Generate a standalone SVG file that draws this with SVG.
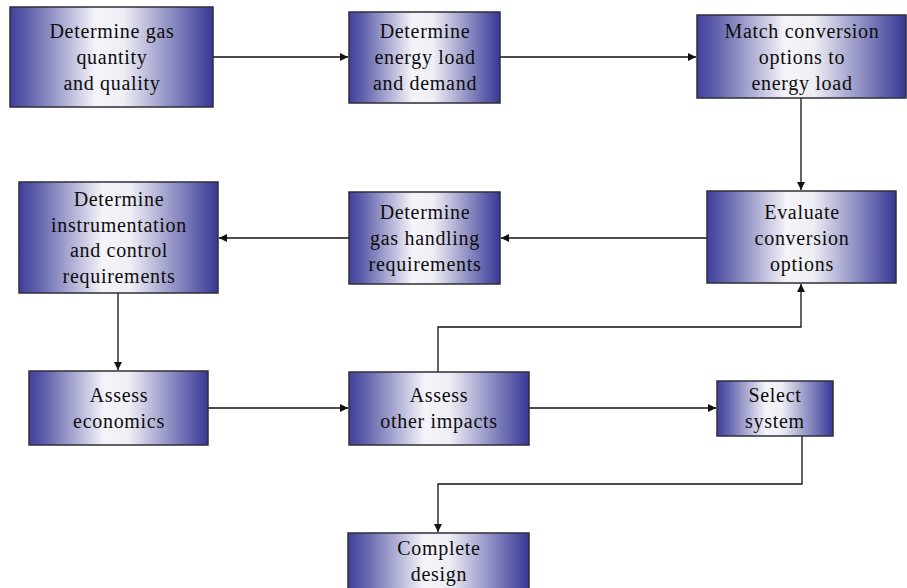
<svg xmlns="http://www.w3.org/2000/svg" width="907" height="588" viewBox="0 0 907 588">
<style>
.box{fill:url(#g);stroke:#2e2e3a;stroke-width:1.5}
.t{font-size:20px;letter-spacing:0.7px;fill:#0d0d0d;text-anchor:middle}
.c{fill:none;stroke:#111;stroke-width:1.3}
</style>
<defs>
<linearGradient id="g" x1="0" y1="0" x2="1" y2="0">
<stop offset="0" stop-color="#40409c"/>
<stop offset="0.1" stop-color="#6464ae"/>
<stop offset="0.42" stop-color="#f4f4f9"/>
<stop offset="0.56" stop-color="#eeeef5"/>
<stop offset="0.9" stop-color="#6060ac"/>
<stop offset="1" stop-color="#383894"/>
</linearGradient>
<marker id="a" viewBox="0 0 10 10" refX="10" refY="5" markerWidth="8" markerHeight="8" markerUnits="userSpaceOnUse" orient="auto">
<path d="M0,0 L10,5 L0,10 z" fill="#111"/>
</marker>
</defs>
<rect width="907" height="588" fill="#fff"/>
<g id="connectors">
<path class="c" d="M213,57 H348" marker-end="url(#a)"/>
<path class="c" d="M500,57 H696" marker-end="url(#a)"/>
<path class="c" d="M801,98 V190" marker-end="url(#a)"/>
<path class="c" d="M707,238 H501" marker-end="url(#a)"/>
<path class="c" d="M349,238 H219" marker-end="url(#a)"/>
<path class="c" d="M118,293 V370" marker-end="url(#a)"/>
<path class="c" d="M208,408 H348" marker-end="url(#a)"/>
<path class="c" d="M438,372 V327 H801 V284" marker-end="url(#a)"/>
<path class="c" d="M529,408 H716" marker-end="url(#a)"/>
<path class="c" d="M802,436 V484 H438 V532" marker-end="url(#a)"/>
</g>
<g font-family="Liberation Serif, Times New Roman, serif">
<g id="n1"><rect class="box" x="10" y="7" width="203" height="100"/>
<text class="t" x="112" y="38">Determine gas</text><text class="t" x="112" y="64">quantity</text><text class="t" x="112" y="90">and quality</text></g>
<g id="n2"><rect class="box" x="349" y="12" width="151" height="91"/>
<text class="t" x="425" y="38">Determine</text><text class="t" x="425" y="64">energy load</text><text class="t" x="425" y="90">and demand</text></g>
<g id="n3"><rect class="box" x="697" y="15" width="209" height="83"/>
<text class="t" x="802" y="38">Match conversion</text><text class="t" x="802" y="64">options to</text><text class="t" x="802" y="90">energy load</text></g>
<g id="n4"><rect class="box" x="707" y="191" width="189" height="92"/>
<text class="t" x="802" y="219">Evaluate</text><text class="t" x="802" y="245">conversion</text><text class="t" x="802" y="271">options</text></g>
<g id="n5"><rect class="box" x="349" y="192" width="151" height="92"/>
<text class="t" x="425" y="219">Determine</text><text class="t" x="425" y="245">gas handling</text><text class="t" x="425" y="271">requirements</text></g>
<g id="n6"><rect class="box" x="19" y="182" width="199" height="111"/>
<text class="t" x="119" y="206">Determine</text><text class="t" x="119" y="232">instrumentation</text><text class="t" x="119" y="257">and control</text><text class="t" x="119" y="283">requirements</text></g>
<g id="n7"><rect class="box" x="29" y="371" width="179" height="74"/>
<text class="t" x="119" y="402">Assess</text><text class="t" x="119" y="428">economics</text></g>
<g id="n8"><rect class="box" x="349" y="372" width="180" height="73"/>
<text class="t" x="439" y="402">Assess</text><text class="t" x="439" y="428">other impacts</text></g>
<g id="n9"><rect class="box" x="717" y="381" width="116" height="55"/>
<text class="t" x="775" y="402">Select</text><text class="t" x="775" y="428">system</text></g>
<g id="n10"><rect class="box" x="348" y="533" width="181" height="70"/>
<text class="t" x="439" y="555">Complete</text><text class="t" x="439" y="581">design</text></g>
</g>
</svg>
